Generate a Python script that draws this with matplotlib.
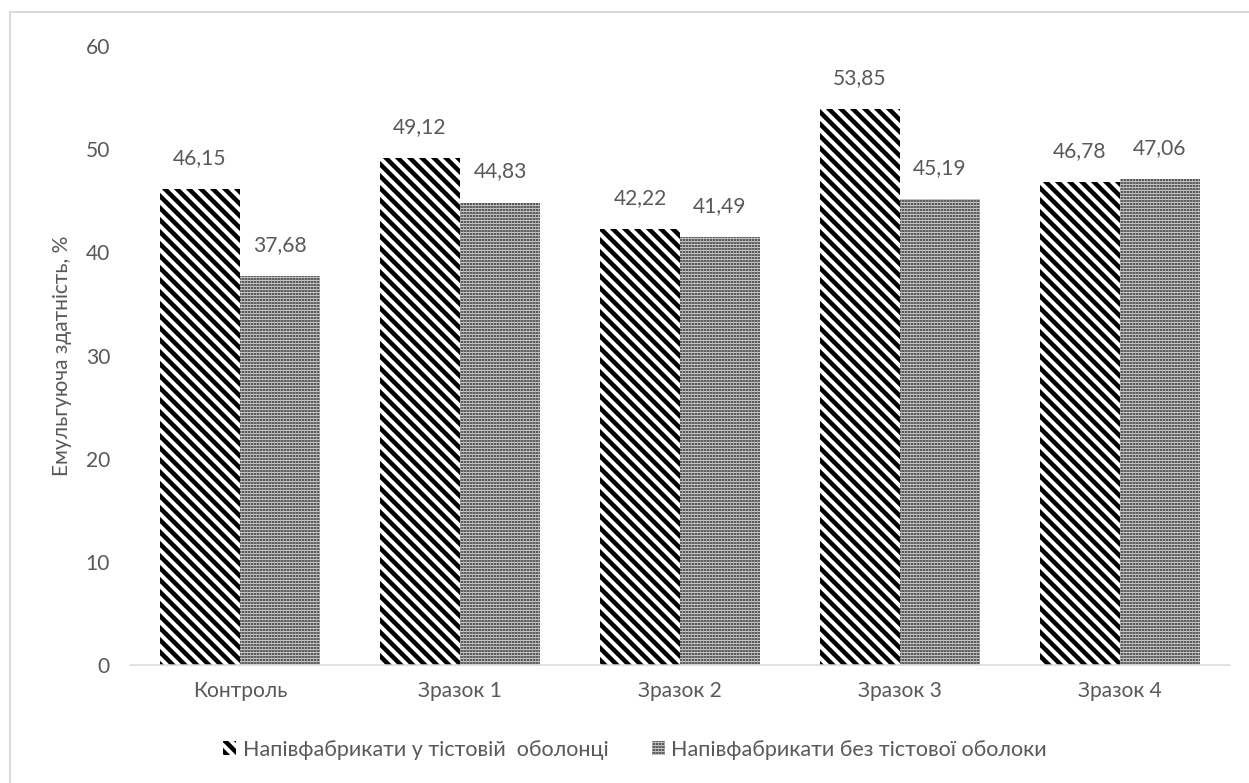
import matplotlib
matplotlib.use("Agg")
import matplotlib.pyplot as plt
from matplotlib.patches import Rectangle, Patch
import numpy as np

categories = ["Контроль", "Зразок 1", "Зразок 2", "Зразок 3", "Зразок 4"]
series1_name = "Напівфабрикати у тістовій  оболонці"
series2_name = "Напівфабрикати без тістової оболоки"
series1 = [46.15, 49.12, 42.22, 53.85, 46.78]
series2 = [37.68, 44.83, 41.49, 45.19, 47.06]
yticks = [0, 10, 20, 30, 40, 50, 60]
ylabel = "Емульгуюча здатність, %"

DPI = 72
W, H = 1249, 783
plt.rcParams['font.family'] = ['Lato', 'DejaVu Sans']
gray = '#595959'
FS = 21
LFS = 21.5
STRIPE_LW = 4.5
DOT_LW = 2.0
HATCH1 = '\\\\'
HATCH2 = '....'


def set_hlw(artists, lw):
    for a in artists:
        if hasattr(a, 'set_hatch_linewidth'):
            a.set_hatch_linewidth(lw)


fig = plt.figure(figsize=(W / DPI, H / DPI), dpi=DPI)
fig.patches.append(Rectangle((10 / W, -0.1), 1.2, (783 - 12) / H + 0.1,
                             transform=fig.transFigure, fill=False,
                             edgecolor='#d9d9d9', linewidth=2))
ax = fig.add_axes([130 / W, (H - 665) / H, 1100 / W, (665 - 46) / H])

x = np.arange(len(categories))
bw = 80 / 220
with plt.rc_context({'hatch.linewidth': STRIPE_LW}):
    b1 = ax.bar(x - bw / 2, series1, bw, facecolor='white', edgecolor='black',
                linewidth=0, hatch=HATCH1)
    h1 = Patch(facecolor='white', edgecolor='black', linewidth=0, hatch=HATCH1)
set_hlw(list(b1) + [h1], STRIPE_LW)
with plt.rc_context({'hatch.linewidth': DOT_LW}):
    b2 = ax.bar(x + bw / 2, series2, bw, facecolor='white', edgecolor='black',
                linewidth=0, hatch=HATCH2)
    h2 = Patch(facecolor='white', edgecolor='black', linewidth=0, hatch=HATCH2)
set_hlw(list(b2) + [h2], DOT_LW)

for bars, vals in ((b1, series1), (b2, series2)):
    for r, v in zip(bars, vals):
        ax.annotate(f"{v:.2f}".replace('.', ','),
                    (r.get_x() + r.get_width() / 2, v),
                    xytext=(0, 21), textcoords='offset pixels',
                    ha='center', va='bottom', fontsize=FS, color=gray)

ax.set_xlim(-0.5, len(categories) - 0.5)
ax.set_ylim(0, 60)
ax.set_yticks(yticks)
ax.set_yticklabels([str(t) for t in yticks])
ax.set_xticks(x)
ax.set_xticklabels(categories)
ax.tick_params(axis='both', length=0, labelsize=FS, labelcolor=gray)
ax.tick_params(axis='y', pad=20)
ax.tick_params(axis='x', pad=16)
for s in ('top', 'right', 'left'):
    ax.spines[s].set_visible(False)
ax.spines['bottom'].set_color('#d9d9d9')
ax.spines['bottom'].set_linewidth(1.5)
ax.set_ylabel(ylabel, fontsize=FS, color=gray, labelpad=14)

leg = fig.legend([h1, h2], [series1_name, series2_name], loc='center',
                 bbox_to_anchor=(635 / W, (H - 750) / H), ncol=2, frameon=False,
                 fontsize=LFS, labelcolor=gray, handlelength=0.62, handleheight=0.62,
                 handletextpad=0.3, columnspacing=2.0)
lh = getattr(leg, 'legend_handles', None) or leg.legendHandles
set_hlw([lh[0]], STRIPE_LW)
set_hlw([lh[1]], DOT_LW)

fig.savefig("out.png", dpi=DPI)
